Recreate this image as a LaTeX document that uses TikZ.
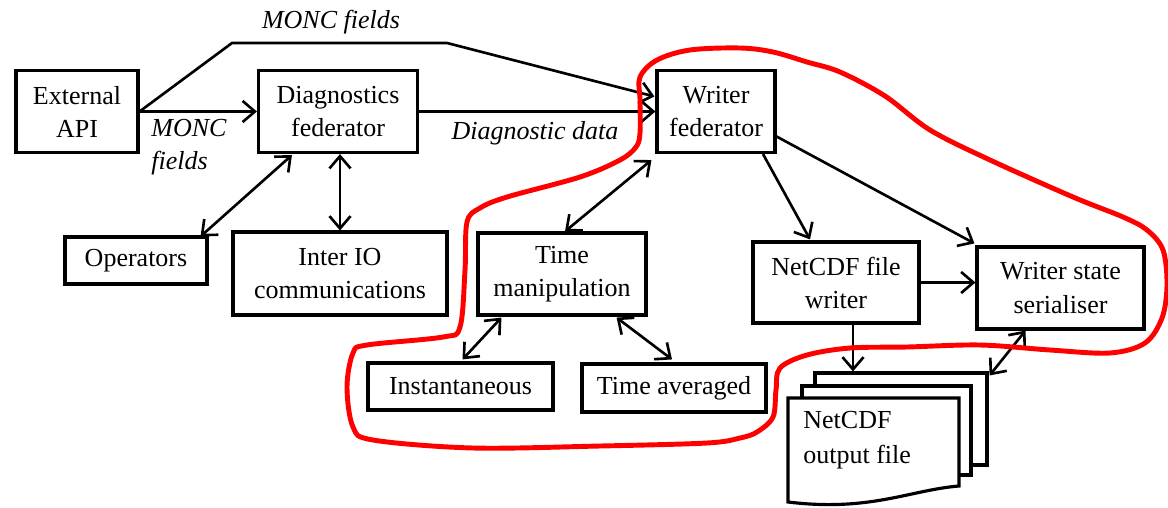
\documentclass[tikz,border=0pt]{standalone}
\usepackage{fontspec}
\setmainfont{Liberation Serif}
\usetikzlibrary{arrows.meta,calc}
\begin{document}
\begin{tikzpicture}[x=0.02cm,y=-0.02cm,
  box/.style={draw,line width=1.8pt,align=center,inner sep=0pt,font=\fontsize{14.8}{18.8}\selectfont},
  conn/.style={line width=1.5pt,-{Straight Barb[length=7pt,width=12pt]}},
  bconn/.style={line width=1.5pt,{Straight Barb[length=7pt,width=12pt]}-{Straight Barb[length=7pt,width=12pt]}},
  lbl/.style={font=\fontsize{14.8}{18.8}\selectfont\itshape,inner sep=0pt},
  page/.style={draw,fill=white,line width=1.8pt},
  redloop/.style={red,line width=2.8pt}]
\useasboundingbox (0,0) rectangle (1168,507);

% boxes
\node[box,minimum width=2.44cm,minimum height=1.64cm] (ext) at (77,111.5) {External\\API};
\node[box,minimum width=3.18cm,minimum height=1.64cm] (diag) at (338,111.5) {Diagnostics\\federator};
\node[box,minimum width=2.36cm,minimum height=1.64cm] (writer) at (716,111.5) {Writer\\federator};
\node[box,minimum width=2.84cm,minimum height=0.94cm] (ops) at (136,260.5) {Operators};
\node[box,minimum width=4.28cm,minimum height=1.66cm] (inter) at (340,273.5) {Inter IO\\communications};
\node[box,minimum width=3.36cm,minimum height=1.64cm] (time) at (562,274) {Time\\manipulation};
\node[box,minimum width=3.7cm,minimum height=0.94cm] (inst) at (460.5,386.5) {Instantaneous};
\node[box,minimum width=3.68cm,minimum height=0.96cm] (avg) at (674,388) {Time averaged};
\node[box,minimum width=3.32cm,minimum height=1.62cm] (ncw) at (836,282.5) {NetCDF file\\writer};
\node[box,minimum width=3.34cm,minimum height=1.64cm] (ser) at (1060.5,288) {Writer state\\serialiser};

% document stack
\node[page,minimum width=3.44cm,minimum height=1.84cm,inner sep=0pt] (docback) at (901,419) {};
\draw[page] (802,386) rectangle (971,475);
\draw[page] (788,398) -- (959,398) -- (959,486) .. controls (910,490) and (870,512) .. (788,502) -- cycle;
\node[anchor=west,align=left,inner sep=0pt,font=\fontsize{14.8}{20}\selectfont] (doctext) at (803,440) {NetCDF\\output file};

% labels
\node[lbl] (lab1) at (331,22) {MONC fields};
\node[lbl,anchor=west,align=left] (lab2) at (151,147) {MONC\\fields};
\node[lbl] (lab3) at (535,133) {Diagnostic data};

% connectors
\coordinate (c1) at (232,43);
\coordinate (c2) at (447,43);
\draw[conn] (ext.east) -- (c1) -- (c2) -- ($(writer.west)+(-1,-15)$);
\draw[conn] (ext.east) -- (diag.west);
\draw[conn] (diag.east) -- (writer.west);
\draw[bconn] ($(ops.north east)+(-8,1)$) -- ($(diag.south west)+(35,1)$);
\draw[bconn] (inter.north) -- (inter.north |- diag.south);
\draw[bconn] ($(time.north)+(3,0)$) -- ($(writer.south west)+(-4,6)$);
\draw[bconn] ($(time.south west)+(25,1)$) -- ($(inst.north)+(2,-2)$);
\draw[bconn] ($(time.south east)+(-31,1)$) -- ($(avg.north)+(-2,-3)$);
\draw[conn] ($(writer.south)+(47,0)$) -- ($(ncw.north)+(-26,-1)$);
\draw[conn] ($(writer.east)+(0,25)$) -- ($(ser.north west)+(-1,-2)$);
\draw[conn] (ncw.east) -- (ncw.east -| ser.west);
\coordinate (c3) at ($(ncw.south)+(17,0)$);
\draw[conn] (c3) -- (c3 |- docback.north);
\draw[bconn] ($(docback.north east)+(1,4)$) -- ($(ser.south)+(-35,0)$);

% red loop
\draw[redloop] plot[smooth cycle,tension=0.55] coordinates {
 (640,77) (657,60) (690,50) (740,48) (773,52) (807,62) (840,72) (885,96) (930,130)
 (990,160) (1073,197) (1123,217) (1147,230) (1163,250) (1167,285) (1162,318)
 (1145,343) (1110,353) (1050,350) (980,345) (907,347) (850,348) (807,355) (780,368)
 (776,390) (773,417) (757,432) (740,438) (707,443) (600,446) (473,448) (373,440)
 (353,427) (347,387) (353,353) (367,345) (443,337) (460,327) (465,270) (467,222)
 (480,208) (507,197) (580,177) (620,160) (636,147) (640,133) (640,100)};
\end{tikzpicture}
\end{document}
